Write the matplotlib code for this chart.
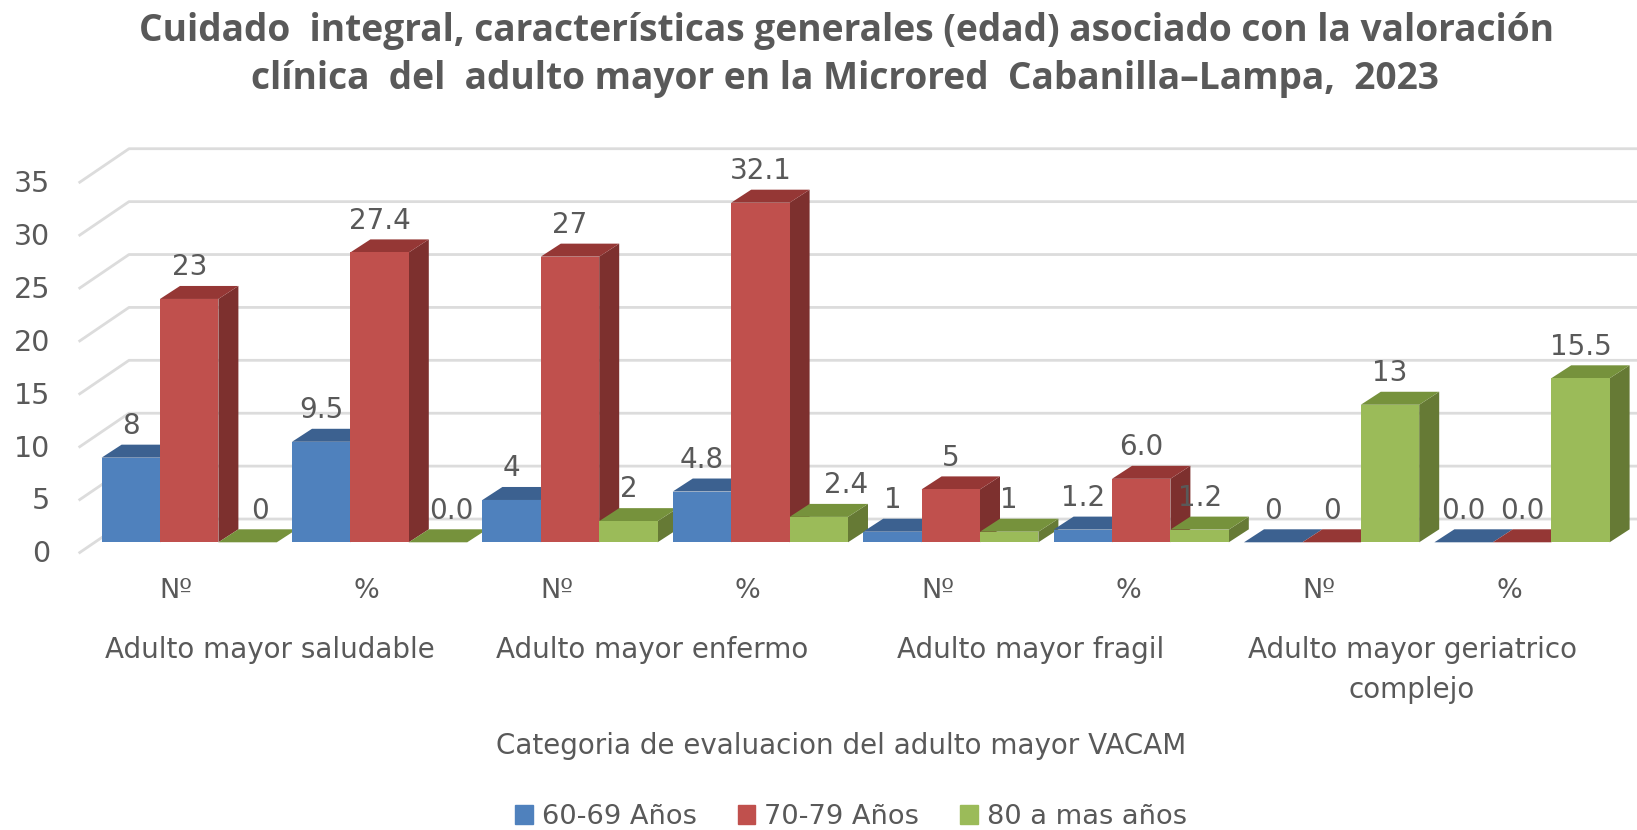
import matplotlib
matplotlib.use("Agg")
import matplotlib.pyplot as plt
from matplotlib.patches import Patch

W, H = 1637, 830

# datos
bar_tags = ["Nº", "%", "Nº", "%", "Nº", "%", "Nº", "%"]
groups = ["Adulto mayor saludable", "Adulto mayor enfermo", "Adulto mayor fragil",
          "Adulto mayor geriatrico\ncomplejo"]
series = ["60-69 Años", "70-79 Años", "80 a mas años"]
v60 = [8, 9.5, 4, 4.8, 1, 1.2, 0, 0]
v70 = [23, 27.4, 27, 32.1, 5, 6.0, 0, 0]
v80 = [0, 0, 2, 2.4, 1, 1.2, 13, 15.5]
y_ticks = [0, 5, 10, 15, 20, 25, 30, 35]

front = ["#4F81BD", "#C0504D", "#9BBB59"]
top = ["#3C6190", "#953735", "#76923C"]
side = ["#2F4D71", "#7D302E", "#667A35"]
GRAY = "#595959"
GRID = "#DCDCDC"

# escala: pixeles por unidad
STEP = 190.4
UNIT = 10.58
X0 = 189.2
Y0 = 542.3
BAR_W = 58.4 / STEP
DX = 20 / STEP
DY = 13 / UNIT

# etiquetas movidas a mano en el original (grupo, serie): pixeles
label_shift = {(0, 2): 12, (1, 2): 13, (3, 2): 27}

plt.rcParams["font.family"] = "DejaVu Sans"
fig = plt.figure(figsize=(W / 100, H / 100), dpi=100)
ax = fig.add_axes([0, 0, 1, 1])
ax.set_xlim(-X0 / STEP, (W - X0) / STEP)
ax.set_ylim(-(H - Y0) / UNIT, Y0 / UNIT)
ax.axis("off")

# rejilla con la pared de fondo y la diagonal lateral
back_x = (129 - X0) / STEP
side_x = (78.6 - X0) / STEP
right_x = (W - X0) / STEP
for t in y_ticks:
    ax.plot([side_x, back_x, right_x], [t - 1.04, t + 2.2, t + 2.2],
            color=GRID, lw=2.0, zorder=1, solid_capstyle="butt")
    ax.text((50 - X0) / STEP, t - 1.14, str(t), ha="right", va="center",
            fontsize=20.5, color=GRAY)

# barras en falso 3D
for g in range(8):
    vals = [v60[g], v70[g], v80[g]]
    for s, v in enumerate(vals):
        x = g + (s - 1) * BAR_W
        l, r = x - BAR_W / 2, x + BAR_W / 2
        z = 3 + g * 3 + s
        ax.fill([r, r + DX, r + DX, r], [0, DY, v + DY, v], color=side[s], lw=0, zorder=z)
        ax.fill([l, l + DX, r + DX, r], [v, v + DY, v + DY, v], color=top[s], lw=0, zorder=z)
        ax.bar(x, v, width=BAR_W, color=front[s], linewidth=0, zorder=z)

# etiquetas de valores
for g in range(8):
    vals = [v60[g], v70[g], v80[g]]
    for s, v in enumerate(vals):
        label = str(v) if g % 2 == 0 else f"{v:.1f}"
        shift = label_shift.get((g, s), 0) / STEP
        ax.text(g + (s - 1) * BAR_W + shift, v + 3.0, label, ha="center", va="center",
                fontsize=20, color=GRAY, zorder=60)

# eje x
for g, tag in enumerate(bar_tags):
    ax.text(g - 13 / STEP, -(591 - Y0) / UNIT, tag, ha="center", va="center",
            fontsize=19.5, color=GRAY)
group_px = [270, 652, 1031, 1412]
for name, px in zip(groups, group_px):
    for i, line in enumerate(name.split("\n")):
        ax.text((px - X0) / STEP, (Y0 - 650 - i * 40) / UNIT, line, ha="center",
                va="center", fontsize=20, color=GRAY)

fig.text(841 / W, 1 - 746 / H, "Categoria de evaluacion del adulto mayor VACAM",
         ha="center", va="center", fontsize=20, color=GRAY)

# titulo
fig.text(846 / W, 1 - 31 / H,
         "Cuidado  integral, características generales (edad) asociado con la valoración",
         ha="center", va="center", fontsize=26.7, fontweight="bold", color=GRAY,
         family="Open Sans")
fig.text(845 / W, 1 - 79 / H,
         "clínica  del  adulto mayor en la Microred  Cabanilla–Lampa,  2023",
         ha="center", va="center", fontsize=26.7, fontweight="bold", color=GRAY,
         family="Open Sans")

handles = [Patch(color=c, label=n) for c, n in zip(front, series)]
fig.legend(handles=handles, loc="center", bbox_to_anchor=(851 / W, 1 - 817 / H), ncol=3,
           frameon=False, fontsize=19.6, labelcolor=GRAY, handlelength=0.65, handleheight=0.65,
           handletextpad=0.34, columnspacing=1.5)

fig.savefig("out.png", dpi=100, facecolor="white")
